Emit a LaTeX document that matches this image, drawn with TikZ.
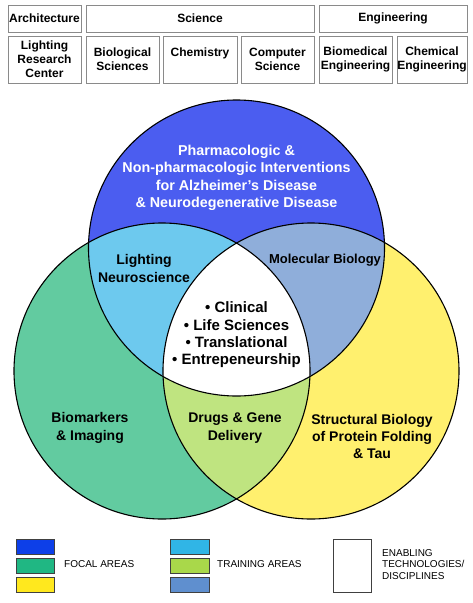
\documentclass[tikz,border=0pt]{standalone}
\usepackage{fontspec}
\setmainfont{Liberation Sans}
\definecolor{bluec}{HTML}{4B5DF0}
\definecolor{greenc}{HTML}{62CBA0}
\definecolor{yellowc}{HTML}{FFF06E}
\definecolor{lightbluec}{HTML}{6DC9EE}
\definecolor{graybluec}{HTML}{8FAEDA}
\definecolor{lightgreenc}{HTML}{BFE480}
\definecolor{lgblue}{HTML}{0D3FE8}
\definecolor{lggreen}{HTML}{20B783}
\definecolor{lgyellow}{HTML}{FFE81E}
\definecolor{lgltblue}{HTML}{30B5E6}
\definecolor{lgltgreen}{HTML}{A9D84A}
\definecolor{lggrayblue}{HTML}{5F8FCF}
\definecolor{boxgray}{HTML}{8A8A8A}
\begin{document}
\begin{tikzpicture}[x=1pt,y=-1pt,
  hbox/.style={draw=boxgray, line width=0.9pt, fill=white, inner sep=0pt, align=center,
    font=\fontsize{12}{14}\selectfont\bfseries},
  venn/.style={circle, draw=black, line width=1.1pt, minimum size=296pt, inner sep=0pt},
  vlabel/.style={align=center, font=\fontsize{14}{17.3}\selectfont\bfseries},
  lgbox/.style={draw=black!75, line width=0.8pt, minimum width=38pt, minimum height=15pt, inner sep=0pt},
  lgtext/.style={anchor=west, align=left, inner sep=0pt, font=\fontsize{10}{11.7}\selectfont}
]
\useasboundingbox (0,0) rectangle (473,603);
\fill[white] (0,0) rectangle (473,603);

% header
\node[hbox, minimum width=73pt, minimum height=27pt] (arch) at (44.5,18.5) {Architecture};
\node[hbox, minimum width=228pt, minimum height=27pt] (sci) at (200,18.5) {Science};
\node[hbox, minimum width=148pt, minimum height=27pt] (eng) at (393,18.5) {Engineering};
\node[hbox, minimum width=73pt, minimum height=47pt] (lrc) at (44.5,59.5) {Lighting\\Research\\Center};
\node[hbox, minimum width=73pt, minimum height=47pt] (bio) at (122.5,59.5) {Biological\\Sciences};
\node[hbox, minimum width=74pt, minimum height=47pt] (chem) at (200,59.5) {Chemistry\\~};
\node[hbox, minimum width=73pt, minimum height=47pt] (cs) at (277.5,59.5) {Computer\\Science};
\node[hbox, minimum width=73pt, minimum height=47pt] (bme) at (355.5,59.5) {Biomedical\\Engineering};
\node[hbox, minimum width=70pt, minimum height=47pt] (che) at (432,59.5) {Chemical\\Engineering};

% venn fills
\coordinate (B) at (236.5,248);
\coordinate (G) at (162,371);
\coordinate (Y) at (311,371);
\fill[bluec] (B) circle (148pt);
\fill[greenc] (G) circle (148pt);
\fill[yellowc] (Y) circle (148pt);
\begin{scope}
  \clip (G) circle (148pt);
  \fill[lightgreenc] (Y) circle (148pt);
\end{scope}
\begin{scope}
  \clip (B) circle (148pt);
  \fill[lightbluec] (G) circle (148pt);
  \fill[graybluec] (Y) circle (148pt);
  \clip (G) circle (148pt);
  \fill[white] (Y) circle (148pt);
\end{scope}
\node[venn] (cblue) at (B) {};
\node[venn] (cgreen) at (G) {};
\node[venn] (cyellow) at (Y) {};

% venn labels
\node[align=center, text=white, font=\fontsize{14.3}{17.4}\selectfont\bfseries] (pharm) at (236.5,178)
  {Pharmacologic \&\\Non-pharmacologic Interventions\\for Alzheimer’s Disease\\\& Neurodegenerative Disease};
\node[vlabel] (light) at (144,268.5) {Lighting\\Neuroscience};
\node[vlabel, font=\fontsize{13}{16}\selectfont\bfseries] (mol) at (325,260) {Molecular Biology};
\node[align=center, font=\fontsize{15}{17.3}\selectfont\bfseries] (core) at (236.5,335)
  {• Clinical\\• Life Sciences\\• Translational\\• Entrepeneurship};
\node[vlabel] (biom) at (90,428) {Biomarkers\\\& Imaging};
\node[vlabel] (drug) at (235,428) {Drugs \& Gene\\Delivery};
\node[vlabel, font=\fontsize{14}{17}\selectfont\bfseries] (struct) at (372,436) {Structural Biology\\of Protein Folding\\\& Tau};

% legend
\node[lgbox, fill=lgblue] (f1) at (35,546.5) {};
\node[lgbox, fill=lggreen] (f2) at (35,565.5) {};
\node[lgbox, fill=lgyellow] (f3) at (35,584.5) {};
\node[lgtext] (focal) at (64,564.5) {FOCAL AREAS};
\node[lgbox, fill=lgltblue, minimum width=39pt] (t1) at (189.5,546.5) {};
\node[lgbox, fill=lgltgreen, minimum width=39pt] (t2) at (189.5,565.5) {};
\node[lgbox, fill=lggrayblue, minimum width=39pt] (t3) at (189.5,584.5) {};
\node[lgtext] (train) at (217,564.5) {TRAINING AREAS};
\node[lgbox, fill=white, minimum height=53pt] (en) at (352,565.5) {};
\node[lgtext] (enab) at (382,564.5) {ENABLING\\TECHNOLOGIES/\\DISCIPLINES};
\end{tikzpicture}
\end{document}
